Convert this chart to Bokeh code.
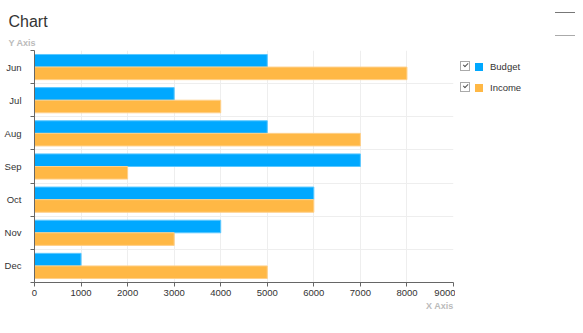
from bokeh.plotting import figure
from bokeh.models import Range1d, FixedTicker, Title, Div, ColumnDataSource
from bokeh.transform import dodge
from bokeh.layouts import row
from bokeh.embed import file_html
from bokeh.resources import INLINE

months = ["Jun", "Jul", "Aug", "Sep", "Oct", "Nov", "Dec"]
budget = [5000, 3000, 5000, 7000, 6000, 4000, 1000]
income = [8000, 4000, 7000, 2000, 6000, 3000, 5000]
series = ["Budget", "Income"]
colors = ["#00a8ff", "#ffb845"]
edge_colors = ["#5cc8ff", "#ffd08a"]
x_ticks = list(range(0, 9001, 1000))

FONT = "Liberation Sans"

pos = [i + 0.5 for i in range(len(months))]
src = ColumnDataSource(dict(y=pos, month=months, Budget=budget, Income=income))

p = figure(width=455, height=333, output_backend="svg", toolbar_location=None,
           x_range=Range1d(x_ticks[0], x_ticks[-1]), y_range=Range1d(len(months), 0),
           min_border_left=34, min_border_right=2, min_border_top=50, min_border_bottom=51)
p.outline_line_color = None
p.background_fill_color = "white"
p.border_fill_color = "white"

for k, (name, col, ec) in enumerate(zip(series, colors, edge_colors)):
    off = -0.19 if k == 0 else 0.19
    p.hbar(y=dodge("y", off), left=0, right=name, height=0.38, source=src,
           fill_color=col, line_color=ec, line_width=1)

# axes
p.xaxis.ticker = FixedTicker(ticks=x_ticks, minor_ticks=[])
p.xaxis.major_tick_out = 4
p.xaxis.major_tick_in = 0
p.xaxis.minor_tick_out = 0
p.xaxis.major_label_standoff = 3
p.yaxis.ticker = FixedTicker(ticks=pos, minor_ticks=list(range(len(months) + 1)))
p.yaxis.major_tick_out = 0
p.yaxis.major_tick_in = 0
p.yaxis.minor_tick_out = 4
p.yaxis.minor_tick_in = 0
p.yaxis.major_label_overrides = {pp: m for pp, m in zip(pos, months)}
p.yaxis.major_label_standoff = 9
for ax in (p.xaxis[0], p.yaxis[0]):
    ax.axis_line_color = "#666666"
    ax.major_tick_line_color = "#666666"
    ax.minor_tick_line_color = "#666666"
    ax.major_label_text_font = FONT
    ax.major_label_text_font_size = "9.5px"
    ax.major_label_text_color = "#333333"

p.xgrid.grid_line_color = "#eeeeee"
p.ygrid.ticker = FixedTicker(ticks=list(range(len(months) + 1)))
p.ygrid.grid_line_color = "#eeeeee"

p.title.text = "Chart"
p.title.align = "left"
p.title.offset = -26
p.title.text_font = FONT
p.title.text_font_size = "16px"
p.title.text_font_style = "normal"
p.title.text_color = "#333333"
p.title.standoff = 7

p.add_layout(Title(text="Y Axis", align="left", offset=-26, text_font=FONT,
                   text_font_size="9px", text_font_style="bold", text_color="#bbbbbb",
                   standoff=5), "above")
p.add_layout(Title(text="X Axis", align="right", offset=0, text_font=FONT,
                   text_font_size="9px", text_font_style="bold", text_color="#bbbbbb",
                   standoff=0), "below")

items = ""
for k, (name, col) in enumerate(zip(series, colors)):
    top = 61 + 21 * k
    items += (
        f'<div style="position:absolute;left:5px;top:{top}px;width:10px;height:10px;'
        f'border:1px solid #aaa;background:#fff;"></div>'
        f'<div style="position:absolute;left:8px;top:{top + 2}px;width:5px;height:2.5px;'
        f'border-left:1.5px solid #555;border-bottom:1.5px solid #555;transform:rotate(-45deg);"></div>'
        f'<div style="position:absolute;left:20px;top:{top + 2}px;width:8px;height:8px;background:{col};"></div>'
        f'<div style="position:absolute;left:35px;top:{top}px;line-height:12px;font-size:9.5px;'
        f'color:#333;font-family:\'{FONT}\';">{name}</div>'
    )
html = (
    '<div style="position:relative;width:128px;height:333px;">'
    '<div style="position:absolute;left:100px;top:12px;width:20px;height:1px;background:#777;"></div>'
    '<div style="position:absolute;left:100px;top:35px;width:20px;height:1px;background:#aaa;"></div>'
    + items + '</div>'
)
div = Div(text=html, width=128, height=333, margin=0)

layout = row(p, div, spacing=0)
open("out.html", "w").write(file_html(layout, INLINE))
